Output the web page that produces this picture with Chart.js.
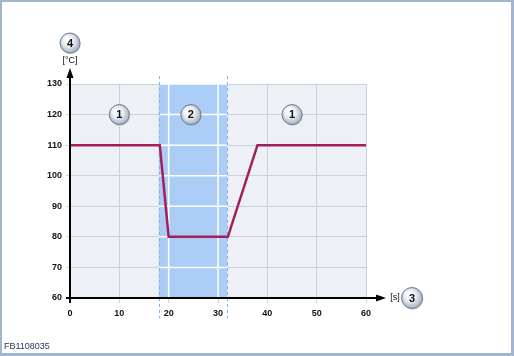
<!DOCTYPE html>
<html><head><meta charset="utf-8">
<style>html,body{margin:0;padding:0;background:#fff;}canvas{display:block;}</style>
<script src="https://cdn.jsdelivr.net/npm/chart.js@4/dist/chart.umd.min.js"></script>
</head><body>
<canvas id="c" width="514" height="356"></canvas>
<script>
const timeS = [0, 18.2, 20, 32, 38, 60];
const tempC = [110, 110, 80, 80, 110, 110];
const xTicks = [0, 10, 20, 30, 40, 50, 60];
const yTicks = [60, 70, 80, 90, 100, 110, 120, 130];
const band = [18, 31.9];
const zoneBadges = [{x: 10, y: 120, t: '1'}, {x: 24.5, y: 120, t: '2'}, {x: 45, y: 120, t: '1'}];
const yUnit = '[°C]', xUnit = '[s]', yBadge = '4', xBadge = '3', code = 'FB1108035';

function badge(ctx, x, y, t, r) {
  ctx.save();
  ctx.beginPath(); ctx.arc(x + 0.8, y + 1.2, r, 0, Math.PI * 2);
  ctx.fillStyle = 'rgba(90,100,120,0.3)'; ctx.fill();
  const g = ctx.createRadialGradient(x - r * 0.35, y - r * 0.45, 1, x, y, r * 1.1);
  g.addColorStop(0, '#ffffff'); g.addColorStop(0.5, '#e6eaf0'); g.addColorStop(1, '#9aa6b8');
  ctx.beginPath(); ctx.arc(x, y, r, 0, Math.PI * 2);
  ctx.fillStyle = g; ctx.fill();
  ctx.lineWidth = 1; ctx.strokeStyle = '#6f7d92'; ctx.stroke();
  ctx.fillStyle = '#111'; ctx.font = 'bold 11px "Liberation Sans", Arial, sans-serif';
  ctx.textAlign = 'center'; ctx.textBaseline = 'middle';
  ctx.fillText(t, x, y + 0.5);
  ctx.restore();
}

const deco = {
  id: 'deco',
  beforeDraw(chart) {
    const {ctx, chartArea: a} = chart;
    ctx.save();
    ctx.fillStyle = '#edf1f6';
    ctx.fillRect(a.left, a.top, a.right - a.left, a.bottom - a.top);
    ctx.restore();
  },
  beforeDatasetsDraw(chart) {
    const {ctx, chartArea: a, scales: {x, y}} = chart;
    const x0 = x.getPixelForValue(band[0]), x1 = x.getPixelForValue(band[1]);
    ctx.save();
    ctx.fillStyle = '#abcdf5';
    ctx.fillRect(x0, a.top, x1 - x0, a.bottom - a.top);
    ctx.strokeStyle = '#ffffff'; ctx.lineWidth = 1.5;
    xTicks.forEach(v => { if (v > band[0] && v < band[1]) { const p = x.getPixelForValue(v); ctx.beginPath(); ctx.moveTo(p, a.top); ctx.lineTo(p, a.bottom); ctx.stroke(); } });
    yTicks.forEach(v => { const p = y.getPixelForValue(v); ctx.beginPath(); ctx.moveTo(x0, p); ctx.lineTo(x1, p); ctx.stroke(); });
    ctx.setLineDash([3, 3]); ctx.strokeStyle = '#7fb0f2'; ctx.lineWidth = 1;
    [x0, x1].forEach(p => { ctx.beginPath(); ctx.moveTo(Math.round(p) + 0.5, a.top - 8); ctx.lineTo(Math.round(p) + 0.5, a.bottom + 20); ctx.stroke(); });
    ctx.restore();
  },
  afterDraw(chart) {
    const {ctx, chartArea: a, scales: {x, y}} = chart;
    const ox = x.getPixelForValue(0), oy = y.getPixelForValue(60);
    ctx.save();
    ctx.strokeStyle = '#000'; ctx.fillStyle = '#000'; ctx.lineWidth = 2;
    // y axis
    ctx.beginPath(); ctx.moveTo(ox, oy + 5); ctx.lineTo(ox, a.top - 8); ctx.stroke();
    ctx.beginPath(); ctx.moveTo(ox, a.top - 16); ctx.lineTo(ox - 3.5, a.top - 6); ctx.lineTo(ox + 3.5, a.top - 6); ctx.closePath(); ctx.fill();
    // x axis
    ctx.beginPath(); ctx.moveTo(ox - 4, oy); ctx.lineTo(a.right + 12, oy); ctx.stroke();
    ctx.beginPath(); ctx.moveTo(a.right + 20, oy); ctx.lineTo(a.right + 10, oy - 3.5); ctx.lineTo(a.right + 10, oy + 3.5); ctx.closePath(); ctx.fill();
    // units
    ctx.font = '9px "Liberation Sans", Arial, sans-serif'; ctx.fillStyle = '#111';
    ctx.textAlign = 'center'; ctx.textBaseline = 'middle';
    ctx.fillText(yUnit, ox, a.top - 23);
    ctx.fillText(xUnit, a.right + 29, oy);
    ctx.restore();
    badge(ctx, ox, a.top - 41, yBadge, 10);
    badge(ctx, a.right + 46, oy, xBadge, 10.5);
    zoneBadges.forEach(b => badge(ctx, x.getPixelForValue(b.x), y.getPixelForValue(b.y), b.t, 10));
    // code + frame
    ctx.save();
    ctx.font = '9px "Liberation Sans", Arial, sans-serif'; ctx.fillStyle = '#1e3350';
    ctx.textAlign = 'left'; ctx.textBaseline = 'middle';
    ctx.fillText(code, 4, 347);
    ctx.fillStyle = '#a2b4cf';
    ctx.fillRect(0, 0, 514, 2); ctx.fillRect(0, 0, 2, 356);
    ctx.fillRect(511, 0, 3, 356); ctx.fillRect(0, 353, 514, 3);
    ctx.restore();
  }
};

new Chart(document.getElementById('c'), {
  type: 'line',
  data: {
    datasets: [{
      data: timeS.map((t, i) => ({x: t, y: tempC[i]})),
      borderColor: '#a51e5c', borderWidth: 2.5, pointRadius: 0, tension: 0, fill: false
    }]
  },
  options: {
    responsive: false, animation: false, devicePixelRatio: 1,
    layout: {padding: {left: 0, top: 84, right: 148, bottom: 0}},
    plugins: {legend: {display: false}, tooltip: {enabled: false}},
    scales: {
      x: {
        type: 'linear', min: 0, max: 60,
        afterBuildTicks: s => { s.ticks = xTicks.map(v => ({value: v})); },
        afterFit: s => { s.height = 58; },
        grid: {color: '#c6d1e1', lineWidth: 1, tickLength: 5, drawOnChartArea: true},
        border: {display: false},
        ticks: {color: '#111', font: {family: '"Liberation Sans", Arial, sans-serif', size: 9, weight: 'bold'}, padding: 5, maxRotation: 0}
      },
      y: {
        min: 60, max: 130,
        afterBuildTicks: s => { s.ticks = yTicks.map(v => ({value: v})); },
        afterFit: s => { s.width = 70; },
        grid: {color: '#c6d1e1', lineWidth: 1, tickLength: 4},
        border: {display: false},
        ticks: {color: '#111', font: {family: '"Liberation Sans", Arial, sans-serif', size: 9, weight: 'bold'}, padding: 4}
      }
    }
  },
  plugins: [deco]
});
</script>
</body></html>
